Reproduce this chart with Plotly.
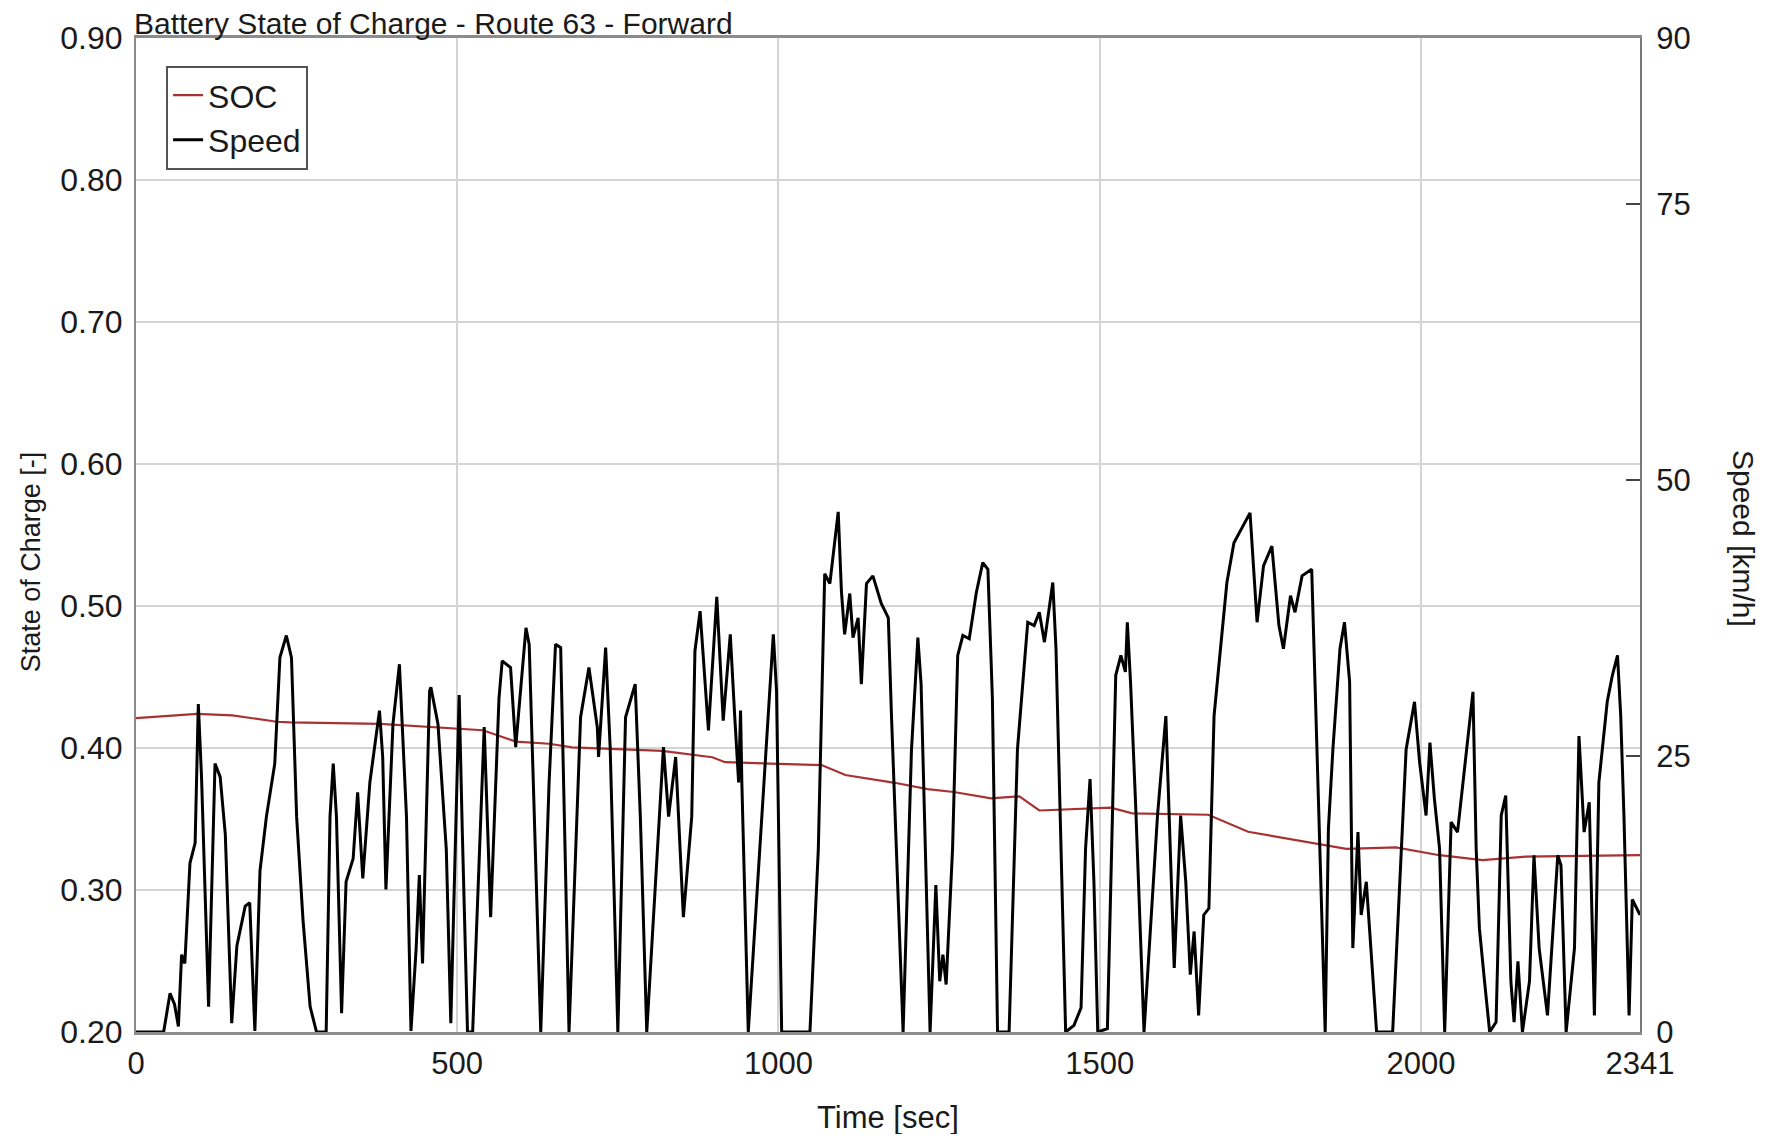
import plotly.graph_objects as go

# ---- data ----
soc_time = [0, 95, 150, 219, 240, 380, 540, 591, 643, 679, 819, 897, 917, 1067, 1104, 1181,
            1232, 1273, 1331, 1375, 1406, 1517, 1551, 1669, 1731, 1843, 1884, 1961, 2029,
            2096, 2163, 2341]
soc_values = [0.421, 0.424, 0.423, 0.4185, 0.418, 0.417, 0.4125, 0.4045, 0.403, 0.4005, 0.398,
              0.3935, 0.390, 0.388, 0.381, 0.3755, 0.371, 0.369, 0.3645, 0.366, 0.356, 0.358,
              0.354, 0.353, 0.341, 0.332, 0.329, 0.330, 0.3245, 0.321, 0.3235, 0.3245]

speed_time = [0, 43, 53, 60, 66, 69, 71, 76, 84, 92, 97, 102, 113, 123, 131, 139, 149, 157, 170,
              177, 185, 193, 203, 216, 224, 234, 242, 250, 260, 271, 281, 296, 302, 307, 312,
              320, 327, 338, 345, 353, 364, 379, 384, 389, 400, 410, 421, 428, 436, 441, 446,
              457, 459, 470, 483, 490, 503, 508, 516, 524, 542, 552, 565, 570, 583, 591, 607,
              612, 622, 630,
              643, 653, 661, 674, 692, 705, 718, 720, 731, 738, 750, 762, 777, 785, 795, 811,
              821, 829, 840, 852, 865, 870, 878, 891, 904, 914, 925, 932, 938, 941, 943, 953,
              974, 992, 997, 1005, 1049, 1062, 1072, 1080, 1093, 1098, 1103, 1111, 1116, 1124,
              1129, 1137, 1147, 1160, 1171, 1176, 1194, 1207, 1217, 1222, 1236,
              1245, 1251, 1256, 1261, 1271, 1279, 1287, 1297, 1308, 1318, 1326, 1333, 1341,
              1359, 1372, 1388, 1398, 1406, 1414, 1427, 1432, 1447, 1460, 1471, 1478, 1485,
              1491, 1497, 1512, 1525, 1533, 1540, 1543, 1548, 1556, 1569, 1590, 1603, 1610,
              1616, 1626, 1634, 1641, 1647, 1654, 1662, 1670, 1678, 1688, 1698, 1709, 1734,
              1745, 1755, 1768, 1779, 1786, 1797, 1804, 1815, 1830, 1835, 1843, 1851,
              1856, 1863, 1874, 1881, 1889, 1894, 1902, 1907, 1915, 1920, 1931, 1956, 1977,
              1990, 1998, 2008, 2014, 2021, 2029, 2037, 2047, 2057, 2068, 2076, 2081, 2086,
              2091, 2099, 2107, 2117, 2125, 2132, 2140, 2145, 2151, 2158, 2169, 2176, 2184,
              2197, 2213, 2218, 2226, 2239, 2246, 2254, 2262, 2270, 2277, 2290, 2298, 2306,
              2311, 2316, 2324, 2329, 2341]
speed_values = [0, 0, 3.5, 2.5, 0.5, 4.4, 7.0, 6.2, 15.3, 17.1, 29.7, 23.1, 2.3, 24.3, 23.1, 17.9,
                0.8, 7.8, 11.4, 11.7, 0.1, 14.6, 19.5, 24.3, 33.9, 35.9, 33.9, 19.5, 10.1, 2.3,
                0, 0, 19.5, 24.3, 19.5, 1.7, 13.6, 15.7, 21.7, 13.9, 22.6, 29.1, 24.9, 12.9,
                27.9, 33.3, 19.5, 0.1, 7.5, 14.2, 6.2, 30.9, 31.2, 27.9, 16.5, 0.8, 30.5, 17.9,
                0, 0, 27.6, 10.4, 30.2, 33.6, 33.0, 25.8, 36.6, 35.1, 16.5, 0,
                22.6, 35.1, 34.8, 0, 28.5, 33.0, 27.6, 24.9, 34.8, 25.8, 0, 28.5, 31.5, 19.5, 0,
                16.5, 25.8, 19.5, 24.9, 10.4, 19.5, 34.5, 38.1, 27.3, 39.4, 28.2, 36.0, 28.5,
                22.6, 29.1, 22.6, 0, 19.5, 36.0, 30.9, 0, 0, 16.5, 41.5, 40.6, 47.1, 39.9, 36.0,
                39.7, 35.7, 37.5, 31.5, 40.6, 41.3, 38.8, 37.5, 28.5, 0, 25.5, 35.7, 31.5, 0,
                13.3, 4.6, 7.0, 4.3, 16.6, 34.1, 35.9, 35.6, 39.8, 42.5, 41.9, 30.2, 0,
                0, 25.6, 37.1, 36.8, 38.0, 35.3, 40.7, 34.7, 0, 0.6, 2.2, 16.6, 22.9,
                13.6, 0, 0.3, 32.3, 34.1, 32.6, 37.1, 31.7, 20.5, 0, 19.6, 28.6, 16.6,
                5.8, 19.6, 13.6, 5.2, 9.1, 1.5, 10.6, 11.2, 28.6, 34.7, 40.7, 44.3, 47.0,
                37.1, 42.2, 44.0, 36.8, 34.7, 39.5, 38.0, 41.3, 41.9, 31.7, 16.6, 0,
                18.4, 25.6, 34.7, 37.1, 31.7, 7.6, 18.1, 10.6, 13.6, 9.1, 0, 0, 25.6,
                29.9, 24.4, 19.6, 26.2, 21.1, 16.6, 0, 19.0, 18.1, 24.1, 28.0, 30.8, 16.6,
                9.4, 4.6, 0, 0.9, 19.6, 21.4, 4.6, 0.9, 6.4, 0, 4.6, 16.0, 7.6,
                1.5, 16.0, 15.1, 0, 7.6, 26.8, 18.1, 20.8, 1.5, 22.6, 29.9, 32.3, 34.1,
                28.6, 19.6, 1.5, 12.0, 10.6]

x_tickvals = [0, 500, 1000, 1500, 2000, 2341]
soc_tickvals = [0.2, 0.3, 0.4, 0.5, 0.6, 0.7, 0.8, 0.9]
speed_tickvals = [0, 25, 50, 75, 90]

FONT = "Liberation Sans, Arial, sans-serif"
TXT = "#1a1a1a"
BIG = 31

fig = go.Figure()
fig.add_trace(go.Scatter(x=soc_time, y=soc_values, name="SOC", mode="lines",
                         line=dict(color="#a83232", width=2.2), yaxis="y"))
fig.add_trace(go.Scatter(x=speed_time, y=speed_values, name="Speed", mode="lines",
                         line=dict(color="#000000", width=3), yaxis="y2"))

fig.update_layout(
    width=1757, height=1126,
    margin=dict(l=128, r=125, t=28, b=102),
    paper_bgcolor="white", plot_bgcolor="white",
    font=dict(family=FONT, size=BIG, color=TXT),
    showlegend=True,
    legend=dict(x=0.02, y=0.972, xanchor="left", yanchor="top",
                bgcolor="white", bordercolor="#555555", borderwidth=2,
                font=dict(size=32, color=TXT), itemwidth=30, tracegroupgap=0),
    xaxis=dict(range=[0, 2341], tickvals=x_tickvals, ticktext=[str(v) for v in x_tickvals],
               showgrid=True, gridcolor="#d4d4d4", gridwidth=1.5,
               showline=True, linecolor="#8c8c8c", linewidth=3, mirror=True,
               ticks="", zeroline=False, tickfont=dict(size=BIG), ticklabelstandoff=2),
    yaxis=dict(range=[0.2, 0.9], tickvals=soc_tickvals, tickformat=".2f",
               showgrid=True, gridcolor="#d4d4d4", gridwidth=1.5,
               showline=True, linecolor="#8c8c8c", linewidth=2, mirror=True,
               ticks="", zeroline=False, tickfont=dict(size=32), ticklabelstandoff=5),
    yaxis2=dict(range=[0, 90], tickvals=speed_tickvals, overlaying="y", side="right",
                showgrid=False, showline=True, linecolor="#777777", linewidth=2,
                ticks="inside", ticklen=14, tickcolor="#444444", tickwidth=1.5,
                zeroline=False, tickfont=dict(size=BIG), ticklabelstandoff=8),
    annotations=[
        dict(text="Battery State of Charge - Route 63 - Forward", xref="paper", yref="paper",
             x=0, y=1, xanchor="left", yanchor="bottom", xshift=-4, yshift=-4, showarrow=False,
             font=dict(size=30, color=TXT)),
        dict(text="Time [sec]", xref="paper", yref="paper", x=0.5, y=0, yanchor="top",
             yshift=-66, showarrow=False, font=dict(size=BIG, color=TXT)),
        dict(text="State of Charge [-]", xref="paper", yref="paper", x=0, y=0.4725,
             xanchor="center", yanchor="middle", xshift=-105, textangle=-90, showarrow=False,
             font=dict(size=27, color=TXT)),
        dict(text="Speed [km/h]", xref="paper", yref="paper", x=1, y=0.497,
             xanchor="center", yanchor="middle", xshift=103, textangle=90, showarrow=False,
             font=dict(size=30, color=TXT)),
    ],
)

fig.write_html("out.html")
